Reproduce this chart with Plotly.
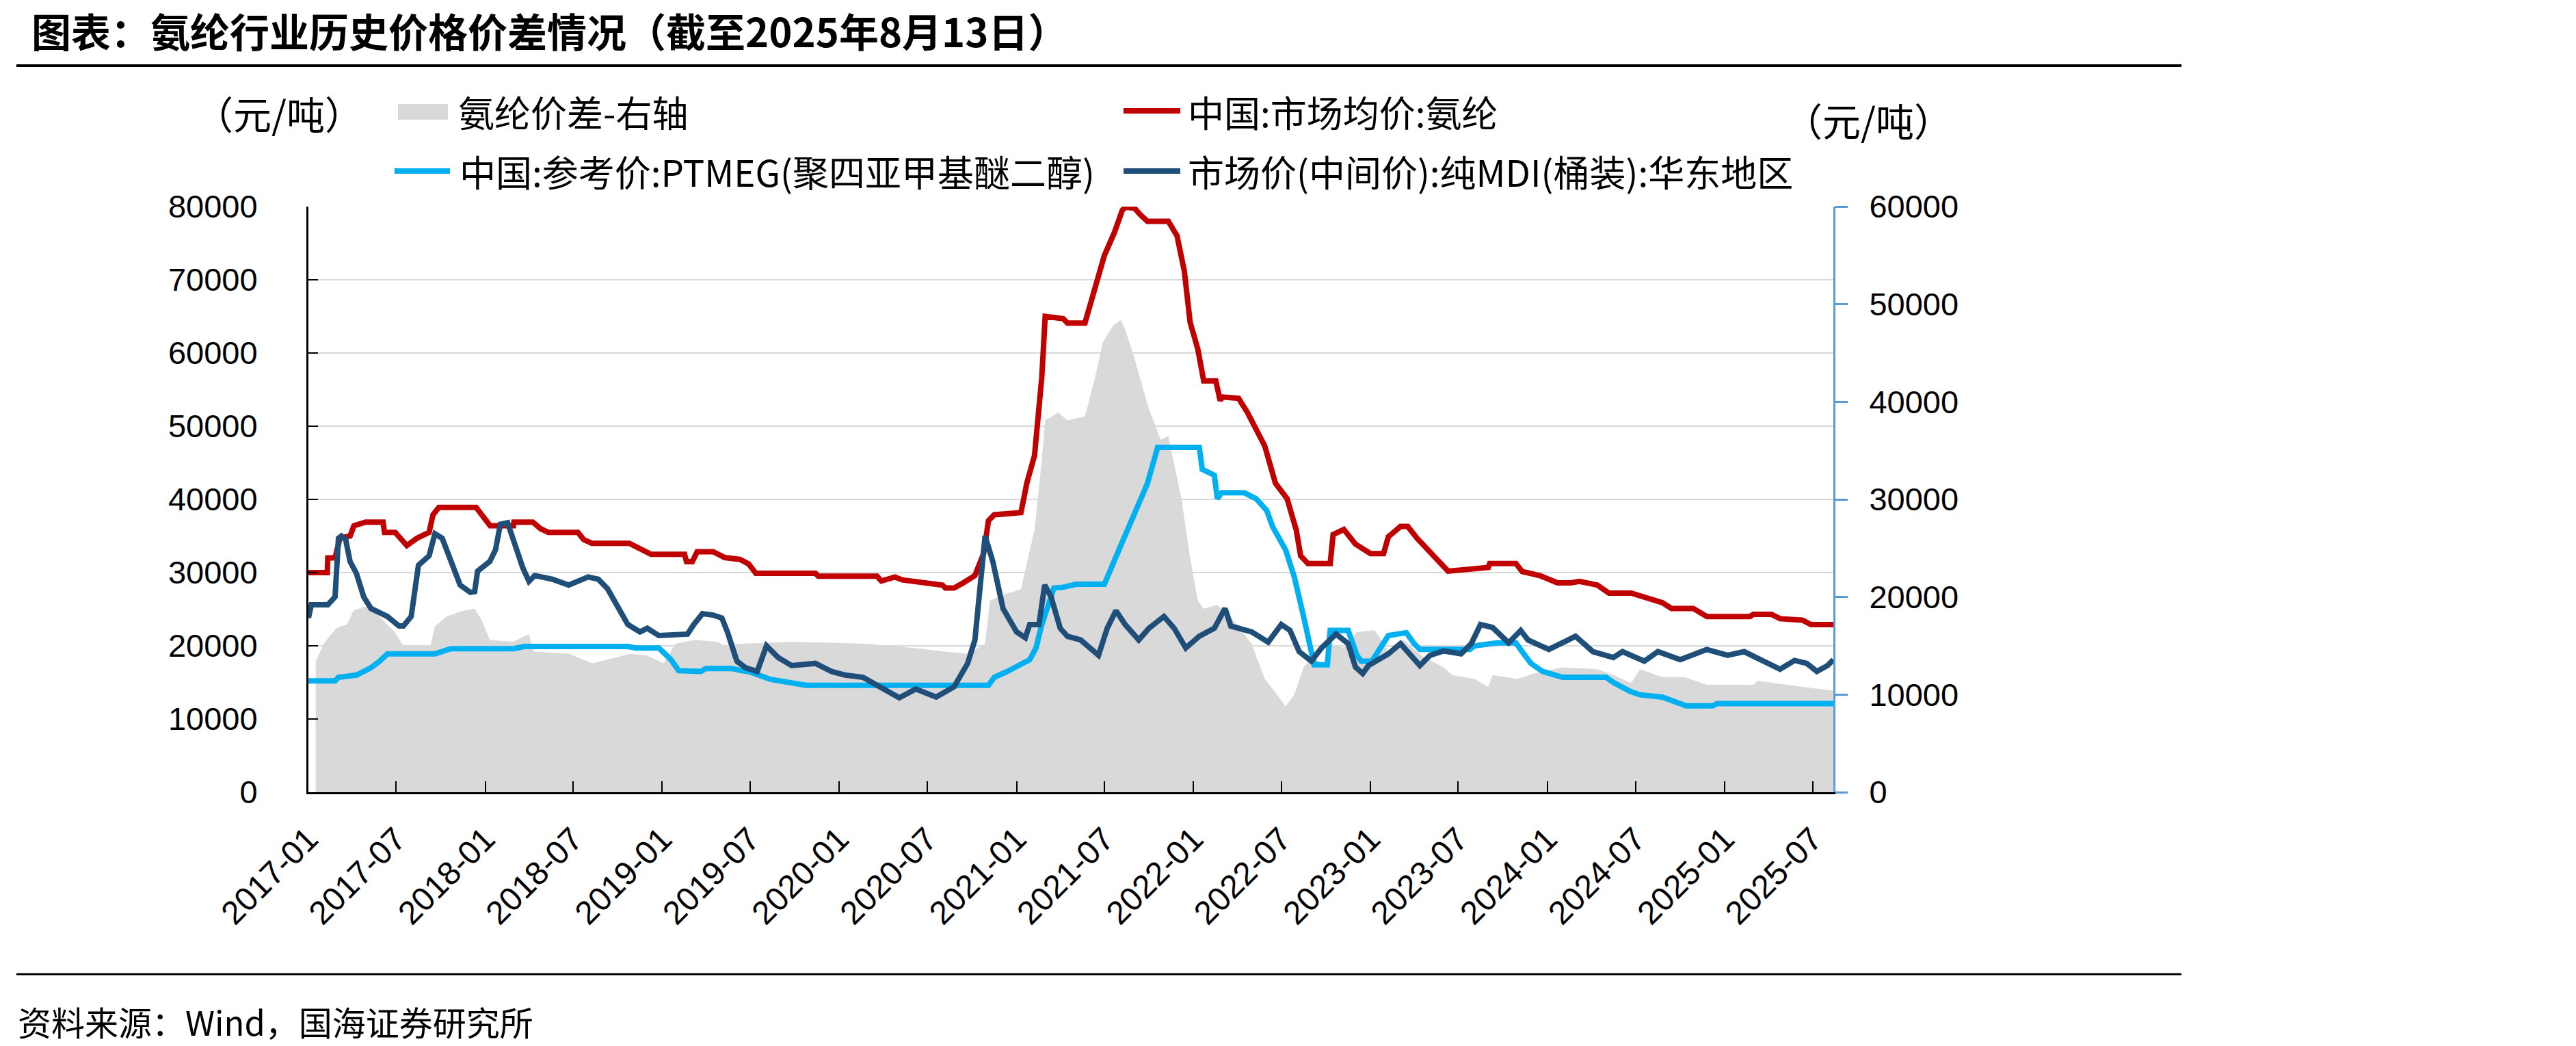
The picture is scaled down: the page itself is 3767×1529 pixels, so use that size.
import plotly.graph_objects as go

# ---------------- data ----------------
title_text = "图表：氨纶行业历史价格价差情况（截至2025年8月13日）"
source_text = "资料来源：Wind，国海证券研究所"
unit_text = "（元/吨）"
legend_labels = ["氨纶价差-右轴", "中国:市场均价:氨纶",
                 "中国:参考价:PTMEG(聚四亚甲基醚二醇)", "市场价(中间价):纯MDI(桶装):华东地区"]

tick_dates = ["2017-01-01", "2017-07-01", "2018-01-01", "2018-07-01", "2019-01-01", "2019-07-01",
              "2020-01-01", "2020-07-01", "2021-01-01", "2021-07-01", "2022-01-01", "2022-07-01",
              "2023-01-01", "2023-07-01", "2024-01-01", "2024-07-01", "2025-01-01", "2025-07-01"]
tick_labels = ["2017-01", "2017-07", "2018-01", "2018-07", "2019-01", "2019-07",
               "2020-01", "2020-07", "2021-01", "2021-07", "2022-01", "2022-07",
               "2023-01", "2023-07", "2024-01", "2024-07", "2025-01", "2025-07"]

# 中国:市场均价:氨纶 (left axis)
spandex_dates = ["2017-01-01", "2017-02-09", "2017-02-10", "2017-02-25", "2017-03-07", "2017-03-28",
                 "2017-04-05", "2017-04-29", "2017-06-04", "2017-06-07", "2017-06-29", "2017-07-23",
                 "2017-08-13", "2017-09-07", "2017-09-15", "2017-09-27", "2017-12-13", "2017-12-29",
                 "2018-01-11", "2018-02-28", "2018-03-01", "2018-04-09", "2018-04-25", "2018-05-11",
                 "2018-07-11", "2018-07-23", "2018-08-09", "2018-10-25", "2018-11-11", "2018-11-23",
                 "2018-12-09", "2019-02-16", "2019-02-20", "2019-03-04", "2019-03-14", "2019-04-16",
                 "2019-05-10", "2019-06-10", "2019-06-28", "2019-07-13", "2019-11-13", "2019-11-19",
                 "2020-03-19", "2020-03-28", "2020-04-25", "2020-05-10", "2020-06-07", "2020-08-01",
                 "2020-08-07", "2020-08-25", "2020-09-13", "2020-10-07", "2020-10-25", "2020-11-04",
                 "2020-11-16", "2021-01-10", "2021-01-22", "2021-02-07", "2021-02-22", "2021-03-01",
                 "2021-04-07", "2021-04-16", "2021-05-22", "2021-06-04", "2021-06-19", "2021-07-01",
                 "2021-07-22", "2021-08-07", "2021-08-13", "2021-09-01", "2021-09-13", "2021-09-28",
                 "2021-11-10", "2021-11-28", "2021-12-13", "2021-12-25", "2022-01-10", "2022-01-22",
                 "2022-02-16", "2022-02-25", "2022-03-01", "2022-04-04", "2022-04-22", "2022-05-10",
                 "2022-05-28", "2022-06-19", "2022-07-13", "2022-08-01", "2022-08-10", "2022-08-25",
                 "2022-10-10", "2022-10-16", "2022-11-07", "2022-12-01", "2023-01-01", "2023-01-28",
                 "2023-02-07", "2023-03-04", "2023-03-19", "2023-04-07", "2023-05-04", "2023-05-22",
                 "2023-06-10", "2023-09-01", "2023-09-04", "2023-10-28", "2023-11-10", "2023-12-16",
                 "2024-01-22", "2024-02-19", "2024-03-07", "2024-04-13", "2024-05-07", "2024-06-22",
                 "2024-07-28", "2024-08-25", "2024-09-13", "2024-10-28", "2024-11-25", "2025-02-22",
                 "2025-03-01", "2025-04-07", "2025-04-25", "2025-06-10", "2025-06-28", "2025-08-13"]
spandex_vals = [30000, 30000, 32000, 32000, 34700, 35000,
                36400, 36900, 36900, 35500, 35500, 33700,
                34700, 35500, 37900, 38900, 38900, 37500,
                36400, 36400, 36900, 36900, 36000, 35500,
                35500, 34500, 34000, 34000, 33400, 32900,
                32500, 32500, 31500, 31500, 32850, 32850,
                32050, 31800, 31200, 29900, 29900, 29500,
                29500, 28850, 29400, 29000, 28700, 28300,
                27900, 27900, 28600, 29600, 32600, 37100,
                37900, 38200, 42200, 46000, 56700, 65000,
                64700, 64100, 64100, 66900, 70600, 73300,
                76500, 79500, 79900, 79800, 78900, 78000,
                78000, 76000, 71200, 64200, 60500, 56200,
                56200, 53500, 54000, 53800, 51900, 49700,
                47300, 42200, 40100, 35800, 32300, 31250,
                31250, 35200, 35900, 33900, 32600, 32600,
                34900, 36300, 36300, 34700, 32800, 31500,
                30200, 30700, 31250, 31250, 30150, 29600,
                28600, 28600, 28800, 28300, 27200, 27200,
                26400, 25900, 25100, 25100, 24000, 24000,
                24300, 24300, 23700, 23500, 22900, 22900]

# 中国:参考价:PTMEG (left axis)
ptmeg_dates = ["2017-01-01", "2017-02-25", "2017-03-04", "2017-04-10", "2017-04-25", "2017-05-10",
               "2017-05-28", "2017-06-13", "2017-09-19", "2017-10-04", "2017-10-22", "2018-02-28",
               "2018-03-22", "2018-10-22", "2018-11-07", "2018-12-25", "2019-01-19", "2019-02-04",
               "2019-03-22", "2019-04-01", "2019-05-25", "2019-06-13", "2019-06-28", "2019-08-13",
               "2019-10-25", "2020-11-04", "2020-11-16", "2020-12-13", "2021-01-28", "2021-02-10",
               "2021-02-22", "2021-03-19", "2021-04-07", "2021-05-04", "2021-07-01", "2021-08-04",
               "2021-09-01", "2021-09-28", "2021-10-19", "2022-01-13", "2022-01-19", "2022-02-13",
               "2022-02-19", "2022-02-28", "2022-04-16", "2022-05-10", "2022-06-01", "2022-06-13",
               "2022-07-10", "2022-07-28", "2022-08-16", "2022-09-01", "2022-09-07", "2022-10-04",
               "2022-10-10", "2022-11-16", "2022-12-04", "2022-12-13", "2023-01-04", "2023-02-07",
               "2023-03-16", "2023-04-01", "2023-04-13", "2023-07-25", "2023-08-04", "2023-09-19",
               "2023-10-28", "2023-11-10", "2023-11-28", "2023-12-22", "2024-02-01", "2024-05-01",
               "2024-05-16", "2024-06-19", "2024-07-10", "2024-08-25", "2024-09-22", "2024-10-13",
               "2024-12-07", "2024-12-16", "2025-08-13"]
ptmeg_vals = [15200, 15200, 15700, 16000, 16500, 17000,
              17900, 18900, 18900, 19300, 19600, 19600,
              19900, 19900, 19700, 19700, 18100, 16600,
              16500, 16900, 16900, 16600, 16500, 15400,
              14600, 14600, 15700, 16500, 18100, 19700,
              22900, 27900, 28000, 28400, 28400, 33700,
              38000, 42200, 47100, 47100, 44100, 43300,
              40100, 40900, 40900, 40100, 38500, 36300,
              33100, 29400, 24000, 18700, 17400, 17400,
              22100, 22100, 18700, 17900, 17900, 21400,
              21800, 20300, 19500, 19500, 20000, 20400,
              20400, 19200, 17600, 16500, 15700, 15700,
              15000, 13800, 13300, 13000, 12200, 11800,
              11800, 12100, 12100]

# 市场价(中间价):纯MDI(桶装):华东地区 (left axis)
mdi_dates = ["2017-01-01", "2017-01-07", "2017-02-10", "2017-02-25", "2017-03-04", "2017-03-10",
             "2017-03-19", "2017-03-28", "2017-04-10", "2017-04-25", "2017-05-10", "2017-06-13",
             "2017-07-07", "2017-07-16", "2017-08-01", "2017-08-16", "2017-09-07", "2017-09-19",
             "2017-10-04", "2017-10-22", "2017-11-10", "2017-12-01", "2017-12-10", "2017-12-16",
             "2018-01-10", "2018-01-22", "2018-02-01", "2018-02-16", "2018-03-04", "2018-03-19",
             "2018-04-01", "2018-04-13", "2018-05-19", "2018-06-22", "2018-08-01", "2018-08-22",
             "2018-09-10", "2018-10-04", "2018-10-22", "2018-11-16", "2018-12-01", "2018-12-25",
             "2019-02-22", "2019-03-07", "2019-03-25", "2019-04-16", "2019-05-04", "2019-05-16",
             "2019-06-04", "2019-06-22", "2019-07-16", "2019-08-04", "2019-08-28", "2019-09-25",
             "2019-11-13", "2019-12-16", "2020-01-13", "2020-02-19", "2020-03-25", "2020-05-04",
             "2020-06-07", "2020-07-19", "2020-08-25", "2020-09-22", "2020-10-07", "2020-10-19",
             "2020-10-28", "2020-11-13", "2020-12-04", "2021-01-01", "2021-01-19", "2021-01-28",
             "2021-02-16", "2021-02-28", "2021-03-13", "2021-04-01", "2021-04-16", "2021-05-13",
             "2021-06-19", "2021-07-07", "2021-07-25", "2021-08-13", "2021-09-10", "2021-10-01",
             "2021-11-01", "2021-11-22", "2021-12-16", "2022-01-13", "2022-02-13", "2022-03-07",
             "2022-03-19", "2022-05-01", "2022-06-04", "2022-07-01", "2022-07-19", "2022-08-07",
             "2022-09-01", "2022-09-22", "2022-10-22", "2022-11-16", "2022-12-01", "2022-12-16",
             "2022-12-28", "2023-02-07", "2023-03-04", "2023-04-13", "2023-05-04", "2023-06-01",
             "2023-07-07", "2023-07-28", "2023-08-16", "2023-09-10", "2023-09-19", "2023-10-13",
             "2023-11-07", "2023-11-22", "2024-01-04", "2024-02-28", "2024-04-04", "2024-05-16",
             "2024-06-04", "2024-07-19", "2024-08-16", "2024-10-01", "2024-11-25", "2025-01-07",
             "2025-02-10", "2025-03-19", "2025-04-25", "2025-05-25", "2025-06-19", "2025-07-10",
             "2025-08-01", "2025-08-13"]
mdi_vals = [23800, 25600, 25600, 26700, 34700, 35000,
            34500, 31500, 29900, 26700, 25100, 24000,
            22700, 22700, 24000, 31000, 32300, 35300,
            34700, 31500, 28300, 27300, 27400, 30200,
            31500, 33100, 36600, 36800, 33700, 30700,
            28800, 29600, 29100, 28300, 29400, 29100,
            27800, 25100, 22900, 21900, 22400, 21400,
            21600, 22900, 24400, 24200, 23800, 21800,
            17900, 17000, 16500, 20000, 18400, 17300,
            17600, 16500, 16000, 15700, 14400, 12900,
            14100, 13000, 14400, 17600, 20800, 29400,
            35000, 31500, 25100, 21900, 21100, 22900,
            22900, 28300, 26700, 22400, 21300, 20800,
            18700, 22400, 24800, 22900, 20800, 22400,
            24000, 22400, 19700, 21300, 22400, 25100,
            22700, 21900, 20500, 22900, 22100, 19200,
            17900, 19700, 21600, 20300, 17100, 16200,
            17300, 18900, 20300, 17300, 18700, 19300,
            18900, 20300, 22900, 22500, 21900, 20400,
            22100, 20800, 19500, 21300, 19200, 18400,
            19200, 17900, 19200, 18100, 19500, 18700,
            19200, 17900, 16800, 18000, 17600, 16500,
            17300, 18100]

# 氨纶价差 (right axis)
spread_dates = ["2017-01-16", "2017-02-04", "2017-02-28", "2017-03-22", "2017-04-04", "2017-04-25",
                "2017-05-10", "2017-06-04", "2017-06-28", "2017-07-16", "2017-09-10", "2017-09-19",
                "2017-10-13", "2017-11-16", "2017-12-10", "2017-12-25", "2018-01-10", "2018-02-27",
                "2018-04-01", "2018-04-10", "2018-06-22", "2018-08-10", "2018-09-10", "2018-10-28",
                "2018-12-01", "2019-01-04", "2019-01-28", "2019-03-07", "2019-04-25", "2019-05-10",
                "2019-06-04", "2019-09-25", "2019-12-25", "2020-02-28", "2020-05-28", "2020-08-07",
                "2020-09-22", "2020-10-28", "2020-11-07", "2020-12-04", "2021-01-10", "2021-01-19",
                "2021-02-07", "2021-02-22", "2021-03-01", "2021-03-28", "2021-04-16", "2021-05-22",
                "2021-06-10", "2021-06-28", "2021-07-19", "2021-08-04", "2021-08-13", "2021-09-01",
                "2021-09-28", "2021-10-25", "2021-11-10", "2021-12-07", "2021-12-25", "2022-01-10",
                "2022-01-22", "2022-02-19", "2022-03-25", "2022-05-01", "2022-05-28", "2022-06-22",
                "2022-07-10", "2022-07-28", "2022-08-16", "2022-09-04", "2022-10-01", "2022-10-10",
                "2022-11-07", "2022-12-04", "2023-01-10", "2023-02-07", "2023-03-10", "2023-04-16",
                "2023-06-01", "2023-06-19", "2023-08-04", "2023-09-01", "2023-09-10", "2023-11-01",
                "2023-12-07", "2024-02-01", "2024-04-13", "2024-05-16", "2024-06-22", "2024-07-10",
                "2024-08-25", "2024-10-10", "2024-11-25", "2025-03-01", "2025-03-10", "2025-06-10",
                "2025-08-13"]
spread_vals = [13400, 15400, 16800, 17200, 18600, 19000,
               18900, 17600, 16400, 15000, 15000, 17000,
               18000, 18600, 18800, 17600, 15600, 15400,
               16200, 14400, 14200, 13200, 13600, 14200,
               14000, 13200, 15200, 15600, 15400, 15000,
               15200, 15400, 15300, 15200, 14800, 14400,
               14200, 15200, 19600, 20200, 20800, 22800,
               26900, 34100, 38100, 38900, 38100, 38500,
               42100, 46100, 47800, 48400, 47400, 44500,
               39700, 36100, 36500, 30100, 24000, 19600,
               18800, 19200, 17600, 15200, 11600, 10000,
               8800, 10000, 12800, 14000, 12800, 15200,
               14800, 16400, 16600, 14400, 15600, 14000,
               12800, 12000, 11600, 10800, 12000, 11600,
               12200, 12800, 12600, 12000, 11200, 12600,
               11800, 11800, 11000, 11000, 11400, 10800,
               10400]

# ---------------- styling ----------------
W, H = 3767, 1529
PL, PR, PT, PB = 451, 2681, 302, 1158   # plot area in pixels
CJK = "Noto Sans CJK SC"
NUM = "Liberation Sans"

RED = "#C00000"
LBLUE = "#00B0F0"
DBLUE = "#1F4E79"
GRAY = "#D9D9D9"
AXBLUE = "#5B9BD5"


def px(x):
    return (x - PL) / (PR - PL)


def py(y):
    return (PB - y) / (PB - PT)


fig = go.Figure()
# spread area on the right-hand (base) axis so that the lines drawn on the overlaying
# left-hand axis sit on top of it
fig.add_trace(go.Scatter(x=spread_dates, y=spread_vals, name=legend_labels[0], yaxis="y",
                         mode="lines", line=dict(width=0, color=GRAY), fill="tozeroy",
                         fillcolor=GRAY, showlegend=False))
fig.add_trace(go.Scatter(x=spandex_dates, y=spandex_vals, name=legend_labels[1], yaxis="y2", mode="lines",
                         line=dict(color=RED, width=8), showlegend=False))
fig.add_trace(go.Scatter(x=ptmeg_dates, y=ptmeg_vals, name=legend_labels[2], yaxis="y2", mode="lines",
                         line=dict(color=LBLUE, width=8), showlegend=False))
fig.add_trace(go.Scatter(x=mdi_dates, y=mdi_vals, name=legend_labels[3], yaxis="y2", mode="lines",
                         line=dict(color=DBLUE, width=8), showlegend=False))

shapes = []
annotations = []

# legend symbols and texts (laid out by hand to match the reference)
shapes.append(dict(type="rect", xref="paper", yref="paper", x0=px(582), x1=px(655), y0=py(175), y1=py(152),
                   fillcolor=GRAY, line=dict(width=0)))
for (x0, x1, yy, col) in [(1643, 1726, 162, RED), (577, 658, 250, LBLUE), (1643, 1726, 250, DBLUE)]:
    shapes.append(dict(type="line", xref="paper", yref="paper", x0=px(x0), x1=px(x1), y0=py(yy), y1=py(yy),
                       line=dict(color=col, width=8)))
for (txt, xx, yy) in [(legend_labels[0], 668, 163), (legend_labels[1], 1735, 163),
                      (legend_labels[2], 670, 250), (legend_labels[3], 1735, 250)]:
    annotations.append(dict(text=txt, xref="paper", yref="paper", x=px(xx), y=py(yy), xanchor="left",
                            yanchor="middle", showarrow=False, font=dict(family=CJK, size=53, color="#000")))

# unit labels
annotations.append(dict(text=unit_text, xref="paper", yref="paper", x=px(408), y=py(165), xanchor="center",
                        yanchor="middle", showarrow=False, font=dict(family=CJK, size=56, color="#000")))
annotations.append(dict(text=unit_text, xref="paper", yref="paper", x=px(2732), y=py(175), xanchor="center",
                        yanchor="middle", showarrow=False, font=dict(family=CJK, size=56, color="#000")))

# source
annotations.append(dict(text=source_text, xref="paper", yref="paper", x=px(24), y=py(1493), xanchor="left",
                        yanchor="middle", showarrow=False, font=dict(family=CJK, size=49, color="#000")))

# title
annotations.append(dict(text="<b>" + title_text + "</b>", xref="paper", yref="paper", x=px(44), y=py(44),
                        xanchor="left", yanchor="middle", showarrow=False,
                        font=dict(family=CJK, size=58, color="#000")))

# separator lines
shapes.append(dict(type="line", xref="paper", yref="paper", x0=px(24), x1=px(3190), y0=py(96), y1=py(96),
                   line=dict(color="#000", width=4)))
shapes.append(dict(type="line", xref="paper", yref="paper", x0=px(24), x1=px(3190), y0=py(1424), y1=py(1424),
                   line=dict(color="#000", width=3)))

fig.update_layout(
    width=W, height=H,
    margin=dict(l=PL, r=W - PR, t=PT, b=H - PB, pad=0),
    paper_bgcolor="white", plot_bgcolor="white",
    showlegend=False,
    xaxis=dict(type="date", range=["2017-01-01", "2025-08-13"], tickmode="array", tickvals=tick_dates,
               ticktext=tick_labels, tickangle=-45, ticks="inside", ticklen=16, tickwidth=2,
               tickcolor="#000", showline=True, linecolor="#000", linewidth=3, showgrid=False,
               zeroline=False, tickfont=dict(family=NUM, size=48, color="#000"), ticklabelstandoff=18),
    # right-hand axis (spread)
    yaxis=dict(range=[0, 60000], dtick=10000, tickformat="d", side="right",
               ticks="outside", ticklen=18, tickwidth=3, tickcolor=AXBLUE, showline=True,
               linecolor=AXBLUE, linewidth=3, showgrid=False, zeroline=False,
               tickfont=dict(family=NUM, size=47, color="#000"), ticklabelstandoff=22),
    # left-hand axis (prices)
    yaxis2=dict(range=[0, 80000], dtick=10000, tickformat="d", overlaying="y", side="left",
                ticks="inside", ticklen=14, tickwidth=2,
                tickcolor="#000", showline=True, linecolor="#000", linewidth=3, showgrid=True,
                gridcolor=GRAY, gridwidth=2, zeroline=False,
                tickfont=dict(family=NUM, size=47, color="#000"), ticklabelstandoff=62),
    shapes=shapes,
    annotations=annotations,
)

fig.write_html("out.html")
